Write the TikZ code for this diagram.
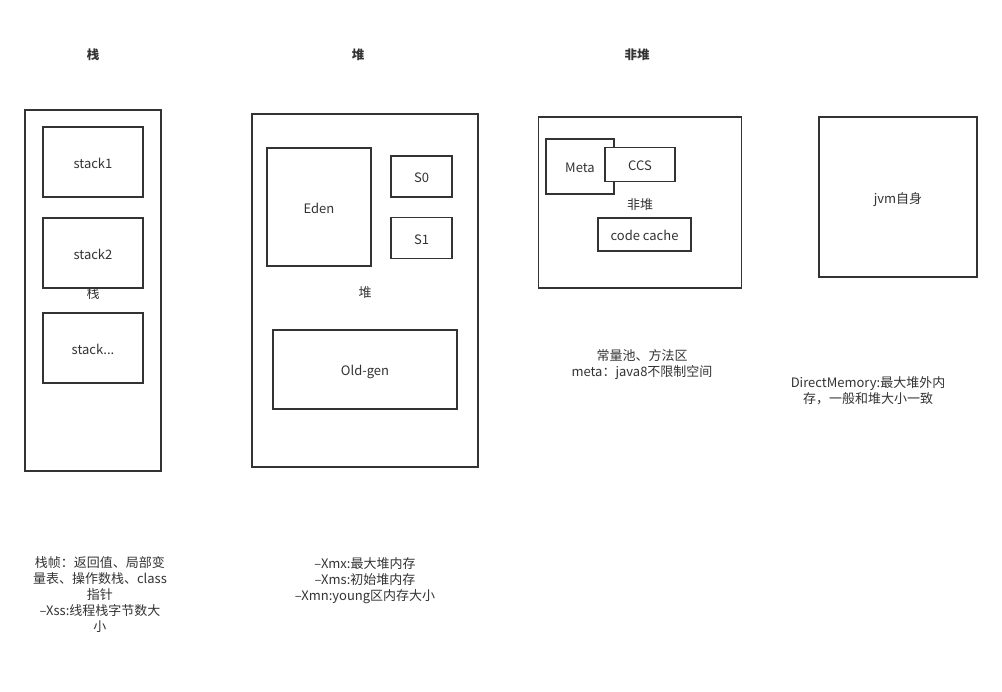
\documentclass[tikz,border=0pt]{standalone}
\usepackage{fontspec}
\setmainfont{Noto Sans CJK SC}
\begin{document}
\begin{tikzpicture}[x=1pt,y=-1pt,
    caja/.style={draw=black!80,line width=1.8pt,fill=white,inner sep=0pt},
    texto/.style={text=black!80,font=\fontsize{13}{16}\selectfont,align=center,inner sep=0pt},
    etiqueta/.style={caja,texto,text height=12.5pt,text depth=0pt},
    titulo/.style={texto,font=\fontsize{12.5}{16}\selectfont\bfseries}]
    \useasboundingbox (0,0) rectangle (1002,692);

    \node[titulo] (tPila) at (93,55) {栈};
    \node[titulo] (tHeap) at (358,55) {堆};
    \node[titulo] (tNoHeap) at (637,55) {非堆};

    % pila
    \node[caja,minimum width=136pt,minimum height=361pt] (pila) at (93,290.5) {};
    \node[etiqueta,minimum width=100pt,minimum height=70pt] (stack1) at (93,162) {stack1};
    \node[etiqueta,minimum width=100pt,minimum height=70pt] (stack2) at (93,253) {stack2};
    \node[texto] (lPila) at (93,294) {栈};
    \node[etiqueta,minimum width=100pt,minimum height=70pt] (stackN) at (93,348) {stack...};

    % heap
    \node[caja,minimum width=226pt,minimum height=353pt] (heap) at (365,290.5) {};
    \node[etiqueta,minimum width=104pt,minimum height=118pt] (eden) at (319,207) {Eden};
    \node[etiqueta,minimum width=61pt,minimum height=41pt] (s0) at (421.5,176.5) {S0};
    \node[etiqueta,minimum width=61pt,minimum height=41pt] (s1) at (421.5,238) {S1};
    \node[texto] (lHeap) at (365,293) {堆};
    \node[etiqueta,minimum width=184pt,minimum height=79pt] (old) at (365,369.5) {Old-gen};

    % no heap
    \node[caja,minimum width=203pt,minimum height=171pt] (noheap) at (640,202.5) {};
    \node[etiqueta,minimum width=68pt,minimum height=55pt] (meta) at (580,166.5) {Meta};
    \node[etiqueta,minimum width=70pt,minimum height=34pt] (ccs) at (640,164.5) {CCS};
    \node[texto] (lNoHeap) at (640,205) {非堆};
    \node[etiqueta,minimum width=93pt,minimum height=33pt] (code) at (644.5,234.5) {code cache};

    \node[etiqueta,minimum width=158pt,minimum height=160pt] (jvm) at (898,197) {jvm自身};

    % notas
    \node[texto] (nNoHeap) at (642,365) {常量池、方法区\\meta：java8不限制空间};
    \node[texto] (nDirect) at (868,390.5) {DirectMemory:最大堆外内\\存，一般和堆大小一致};
    \node[texto] (nPila) at (100,594.5) {栈帧：返回值、局部变\\量表、操作数栈、class\\指针\\--Xss:线程栈字节数大\\小};
    \node[texto] (nHeap) at (365,581) {--Xmx:最大堆内存\\--Xms:初始堆内存\\--Xmn:young区内存大小};
\end{tikzpicture}
\end{document}
